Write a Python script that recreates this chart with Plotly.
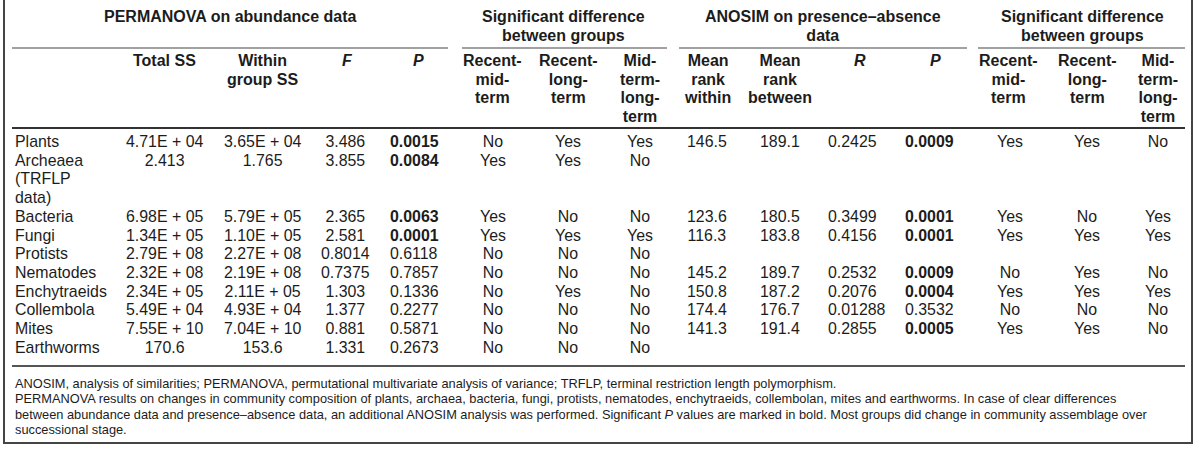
import plotly.graph_objects as go

# ---------------- data ----------------
taxa = ["Plants", "Archeaea\n(TRFLP\ndata)", "Bacteria", "Fungi", "Protists", "Nematodes",
        "Enchytraeids", "Collembola", "Mites", "Earthworms"]
total_ss = [4.71e4, 2.413, 6.98e5, 1.34e5, 2.79e8, 2.32e8, 2.34e5, 5.49e4, 7.55e10, 170.6]
within_ss = [3.65e4, 1.765, 5.79e5, 1.10e5, 2.27e8, 2.19e8, 2.11e5, 4.93e4, 7.04e10, 153.6]
perm_f = [3.486, 3.855, 2.365, 2.581, 0.8014, 0.7375, 1.303, 1.377, 0.881, 1.331]
perm_p = [0.0015, 0.0084, 0.0063, 0.0001, 0.6118, 0.7857, 0.1336, 0.2277, 0.5871, 0.2673]
perm_rec_mid = ["No", "Yes", "Yes", "Yes", "No", "No", "No", "No", "No", "No"]
perm_rec_long = ["Yes", "Yes", "No", "Yes", "No", "No", "Yes", "No", "No", "No"]
perm_mid_long = ["Yes", "No", "No", "Yes", "No", "No", "No", "No", "No", "No"]
anosim_within = [146.5, None, 123.6, 116.3, None, 145.2, 150.8, 174.4, 141.3, None]
anosim_between = [189.1, None, 180.5, 183.8, None, 189.7, 187.2, 176.7, 191.4, None]
anosim_r = [0.2425, None, 0.3499, 0.4156, None, 0.2532, 0.2076, 0.01288, 0.2855, None]
anosim_p = [0.0009, None, 0.0001, 0.0001, None, 0.0009, 0.0004, 0.3532, 0.0005, None]
anosim_rec_mid = ["Yes", None, "Yes", "Yes", None, "No", "Yes", "No", "Yes", None]
anosim_rec_long = ["Yes", None, "No", "Yes", None, "Yes", "Yes", "No", "Yes", None]
anosim_mid_long = ["No", None, "Yes", "Yes", None, "No", "Yes", "No", "No", None]

group_titles = ["PERMANOVA on abundance data",
                "Significant difference\nbetween groups",
                "ANOSIM on presence\u2013absence\ndata",
                "Significant difference\nbetween groups"]
col_headers = ["Total SS", "Within\ngroup SS", "<i>F</i>", "<i>P</i>",
               "Recent-\nmid-\nterm", "Recent-\nlong-\nterm", "Mid-\nterm-\nlong-\nterm",
               "Mean\nrank\nwithin", "Mean\nrank\nbetween", "<i>R</i>", "<i>P</i>",
               "Recent-\nmid-\nterm", "Recent-\nlong-\nterm", "Mid-\nterm-\nlong-\nterm"]
footnotes = [
    "ANOSIM, analysis of similarities; PERMANOVA, permutational multivariate analysis of variance; TRFLP, terminal restriction length polymorphism.",
    "PERMANOVA results on changes in community composition of plants, archaea, bacteria, fungi, protists, nematodes, enchytraeids, collembolan, mites and earthworms. In case of clear differences",
    "between abundance data and presence\u2013absence data, an additional ANOSIM analysis was performed. Significant <i>P</i> values are marked in bold. Most groups did change in community assemblage over",
    "successional stage.",
]
SIG_LEVEL = 0.05

# ---------------- formatting ----------------
def fmt_ss(v):
    if v is None:
        return ""
    if v >= 1e4:
        return ("%.2E" % v).replace("E+", "E + ")
    return "{:.4g}".format(v)


def fmt_num(v):
    return "" if v is None else "{:.4g}".format(v)


def fmt_p(v):
    if v is None:
        return ""
    s = "{:.4f}".format(v)
    return "<b>%s</b>" % s if v < SIG_LEVEL else s


def fmt_txt(v):
    return "" if v is None else v


columns = [
    [fmt_ss(v) for v in total_ss],
    [fmt_ss(v) for v in within_ss],
    [fmt_num(v) for v in perm_f],
    [fmt_p(v) for v in perm_p],
    [fmt_txt(v) for v in perm_rec_mid],
    [fmt_txt(v) for v in perm_rec_long],
    [fmt_txt(v) for v in perm_mid_long],
    [fmt_num(v) for v in anosim_within],
    [fmt_num(v) for v in anosim_between],
    [fmt_num(v) for v in anosim_r],
    [fmt_p(v) for v in anosim_p],
    [fmt_txt(v) for v in anosim_rec_mid],
    [fmt_txt(v) for v in anosim_rec_long],
    [fmt_txt(v) for v in anosim_mid_long],
]

# ---------------- layout (pixel geometry) ----------------
W, H = 1200, 453
FONT = "Liberation Sans, Arial, sans-serif"
TXT = "#1c1c1c"
BODY_SIZE = 15.9
HEAD_SIZE = 16
FOOT_SIZE = 12.8
LINE_H = 18.7
ROW0 = 142
HEAD_Y0 = 61
TITLE_Y0 = 17
LEFT = 13
PLOTLY_LS = 1.3          # plotly's fixed line spacing (em)
HALF_BOX = 0.5585        # half text-box height / font size (Liberation Sans)
PAD = 2                  # annotation borderpad + borderwidth

header_x = [164, 262, 347, 418, 492, 568, 640, 707, 780, 860, 935, 1008, 1087, 1158]
data_pos = [(164, "center"), (262, "center"), (345, "center"), (388, "left"),
            (493, "center"), (568, "center"), (640, "center"),
            (707, "center"), (780, "center"), (826, "left"), (903, "left"),
            (1010, "center"), (1087, "center"), (1158, "center")]
group_x = [230, 563, 823, 1082]
group_spans = [(12, 448), (462, 667), (679, 967), (978, 1185)]
GROUP_LINE_Y = 48
HEAD_LINE_Y = 128
FOOT_LINE_Y = 366
FOOT_Y0 = 383
FOOT_LH = 15.3

fig = go.Figure()
fig.add_trace(go.Scatter(x=[0, W], y=[0, H], mode="markers",
                         marker=dict(opacity=0), hoverinfo="skip", showlegend=False))

ann = []


def add_block(x, y_first, lines, anchor="center", size=BODY_SIZE, spacing=LINE_H, bold=False):
    """One multi-line text block; glyph size and line pitch set independently."""
    parts = []
    for ln in lines:
        if ln:
            seg = "<span style='font-size:%.2fpx'>%s</span>" % (size, ln)
            if bold:
                seg = "<b>%s</b>" % seg
            parts.append(seg)
        else:
            parts.append("")
    text = "<br>".join(parts)
    ann.append(dict(x=x, y=y_first - HALF_BOX * size - PAD, xref="x", yref="y",
                    text=text, showarrow=False, xanchor=anchor, yanchor="top",
                    align=anchor,
                    font=dict(family=FONT, size=spacing / PLOTLY_LS, color=TXT)))


# group titles
for gx, title in zip(group_x, group_titles):
    add_block(gx, TITLE_Y0, title.split("\n"), size=HEAD_SIZE, bold=True)

# column headers
for hx, head in zip(header_x, col_headers):
    add_block(hx, HEAD_Y0, head.split("\n"), size=HEAD_SIZE, bold=True)

# body: one block per column
label_lines = []
col_lines = [[] for _ in columns]
for i, label in enumerate(taxa):
    lines = label.split("\n")
    label_lines.extend(lines)
    for c, col in enumerate(columns):
        col_lines[c].append(col[i])
        col_lines[c].extend([""] * (len(lines) - 1))

add_block(LEFT, ROW0, label_lines, anchor="left")
for (cx, anchor), lines in zip(data_pos, col_lines):
    add_block(cx, ROW0, lines, anchor=anchor)

# footnotes
add_block(LEFT, FOOT_Y0, footnotes, anchor="left", size=FOOT_SIZE, spacing=FOOT_LH)

shapes = []
for x0, x1 in group_spans:
    shapes.append(dict(type="line", xref="x", yref="y", x0=x0, x1=x1,
                       y0=GROUP_LINE_Y, y1=GROUP_LINE_Y, line=dict(color="#444", width=1.2)))
shapes.append(dict(type="line", xref="x", yref="y", x0=12, x1=1185,
                   y0=HEAD_LINE_Y, y1=HEAD_LINE_Y, line=dict(color="#333", width=1.8)))
shapes.append(dict(type="line", xref="x", yref="y", x0=12, x1=1185,
                   y0=FOOT_LINE_Y, y1=FOOT_LINE_Y, line=dict(color="#555", width=1.8)))
shapes.append(dict(type="rect", xref="x", yref="y", x0=4, x1=1192, y0=-20, y1=443,
                   line=dict(color="#444", width=2)))

fig.update_layout(
    width=W, height=H, margin=dict(l=0, r=0, t=0, b=0),
    paper_bgcolor="white", plot_bgcolor="white",
    xaxis=dict(range=[0, W], visible=False, fixedrange=True),
    yaxis=dict(range=[H, 0], visible=False, fixedrange=True),
    annotations=ann, shapes=shapes, showlegend=False,
)

fig.write_html("out.html", config={"displayModeBar": False},
               post_script="document.body.style.margin='0';")
